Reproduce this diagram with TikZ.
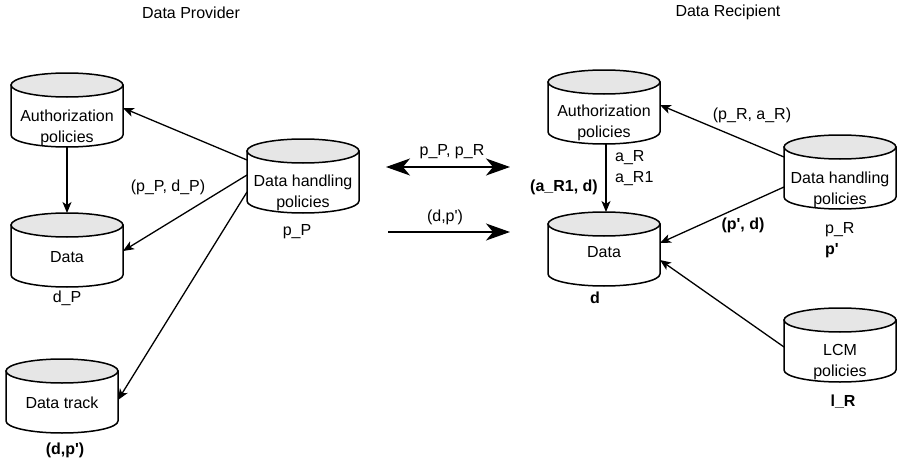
\documentclass[tikz,border=0pt]{standalone}
\usepackage{fontspec}
\setmainfont{Liberation Sans}
\usetikzlibrary{calc,arrows.meta}

\definecolor{capgray}{HTML}{E6E6E6}

\tikzset{
  smallhead/.tip={Stealth[length=11pt,width=9pt,inset=3pt]},
  bighead/.tip={Stealth[length=24pt,width=17pt,inset=7pt]},
  cylbox/.style={rectangle, minimum width=112pt, minimum height=74pt, inner sep=0pt, outer sep=0pt},
  cylline/.style={line width=1.5pt, draw=black},
  txt/.style={font=\fontsize{16}{20.5}\selectfont, inner sep=0pt, align=center},
  boldtxt/.style={txt, font=\fontsize{16}{20.5}\selectfont\bfseries},
  link/.style={line width=1.3pt, -smallhead},
  bigarrow/.style={line width=1.5pt, -bighead},
  bigboth/.style={line width=1.5pt, bighead-bighead},
}

% database cylinder: #1 name, #2 centre x, #3 top y, #4 text, #5 text centre below the top
\newcommand\dbcyl[5]{%
  \node[cylbox] (#1) at (#2,-#3-37) {};
  \draw[cylline, fill=white] ($(#1.north west)+(0,-12)$) -- ++(0,-50)
     arc[start angle=180, end angle=360, x radius=56pt, y radius=12pt] -- ++(0,50) -- cycle;
  \draw[cylline, fill=capgray] ($(#1.north)+(0,-12)$) ellipse[x radius=56pt, y radius=12pt];
  \node[txt] (#1-text) at ($(#1.north)+(0,-#5)$) {#4};
}

\begin{document}
\begin{tikzpicture}[x=1pt, y=1pt]
  \fill[white] (0,0) rectangle (898,-463);
  \useasboundingbox (0,0) rectangle (898,-463);

  % side headings
  \node[txt] (provider) at (191,-13) {Data Provider};
  \node[txt] (recipient) at (728,-12) {Data Recipient};

  % provider stores
  \dbcyl{authL}{67}{73}{Authorization\\policies}{55}
  \dbcyl{dataL}{67}{213}{Data}{44}
  \dbcyl{dhL}{303}{139}{Data handling\\policies}{54}
  \dbcyl{trackL}{62}{359}{Data track}{44}

  % recipient stores
  \dbcyl{authR}{604}{70}{Authorization\\policies}{53}
  \dbcyl{dataR}{604}{212}{Data}{40}
  \dbcyl{dhR}{840}{135}{Data handling\\policies}{55}
  \dbcyl{lcmR}{840}{308}{LCM\\policies}{54}

  % captions under the stores
  \node[txt] (dP) at (67,-298) {d\_P};
  \node[txt] (pP) at (297,-232) {p\_P};
  \node[boldtxt] (dpTrack) at (65,-450) {(d,p\textquotesingle)};
  \node[boldtxt] (dR) at (595,-298) {d};
  \node[txt, align=left, anchor=west] (pR) at (825,-240) {p\_R\\\textbf{p\textquotesingle}};
  \node[boldtxt] (lR) at (843,-402) {l\_R};

  % connector labels
  \node[txt] (pPdP) at (168,-187) {(p\_P, d\_P)};
  \node[txt] (pPpR) at (452,-152) {p\_P, p\_R};
  \node[txt] (dpMid) at (445,-217) {(d,p\textquotesingle)};
  \node[txt, align=left, anchor=west] (aR) at (615,-168) {a\_R\\a\_R1};
  \node[boldtxt] (aR1d) at (564,-187) {(a\_R1, d)};
  \node[txt] (pRaR) at (752,-115) {(p\_R, a\_R)};
  \node[boldtxt] (pd) at (743,-225) {(p\textquotesingle, d)};

  % provider flows
  \draw[link] (authL.south) -- (dataL.north);
  \draw[link] ($(dhL.west)+(0,16)$) -- ($(authL.east)+(0,2)$);
  \draw[link] ($(dhL.west)+(0,1)$) -- ($(dataL.east)+(0,-1)$);
  \draw[link] ($(dhL.west)+(0,-16)$) -- ($(trackL.east)+(0,-4)$);

  % exchange between the parties
  \coordinate (exL) at (386,-167);
  \coordinate (exR) at (510,-167);
  \draw[bigboth] (exL) -- (exR);
  \coordinate (sendL) at (388,-232);
  \coordinate (sendR) at (510,-232);
  \draw[bigarrow] (sendL) -- (sendR);

  % recipient flows
  \draw[link] ($(authR.south)+(2,0)$) -- ($(dataR.north)+(2,0)$);
  \draw[link] ($(dhR.west)+(0,15)$) -- ($(authR.east)+(0,2)$);
  \draw[link] ($(dhR.west)+(0,-15)$) -- ($(dataR.east)+(0,6)$);
  \draw[link] ($(lcmR.west)+(0,-2)$) -- ($(dataR.east)+(0,-11)$);
\end{tikzpicture}
\end{document}
